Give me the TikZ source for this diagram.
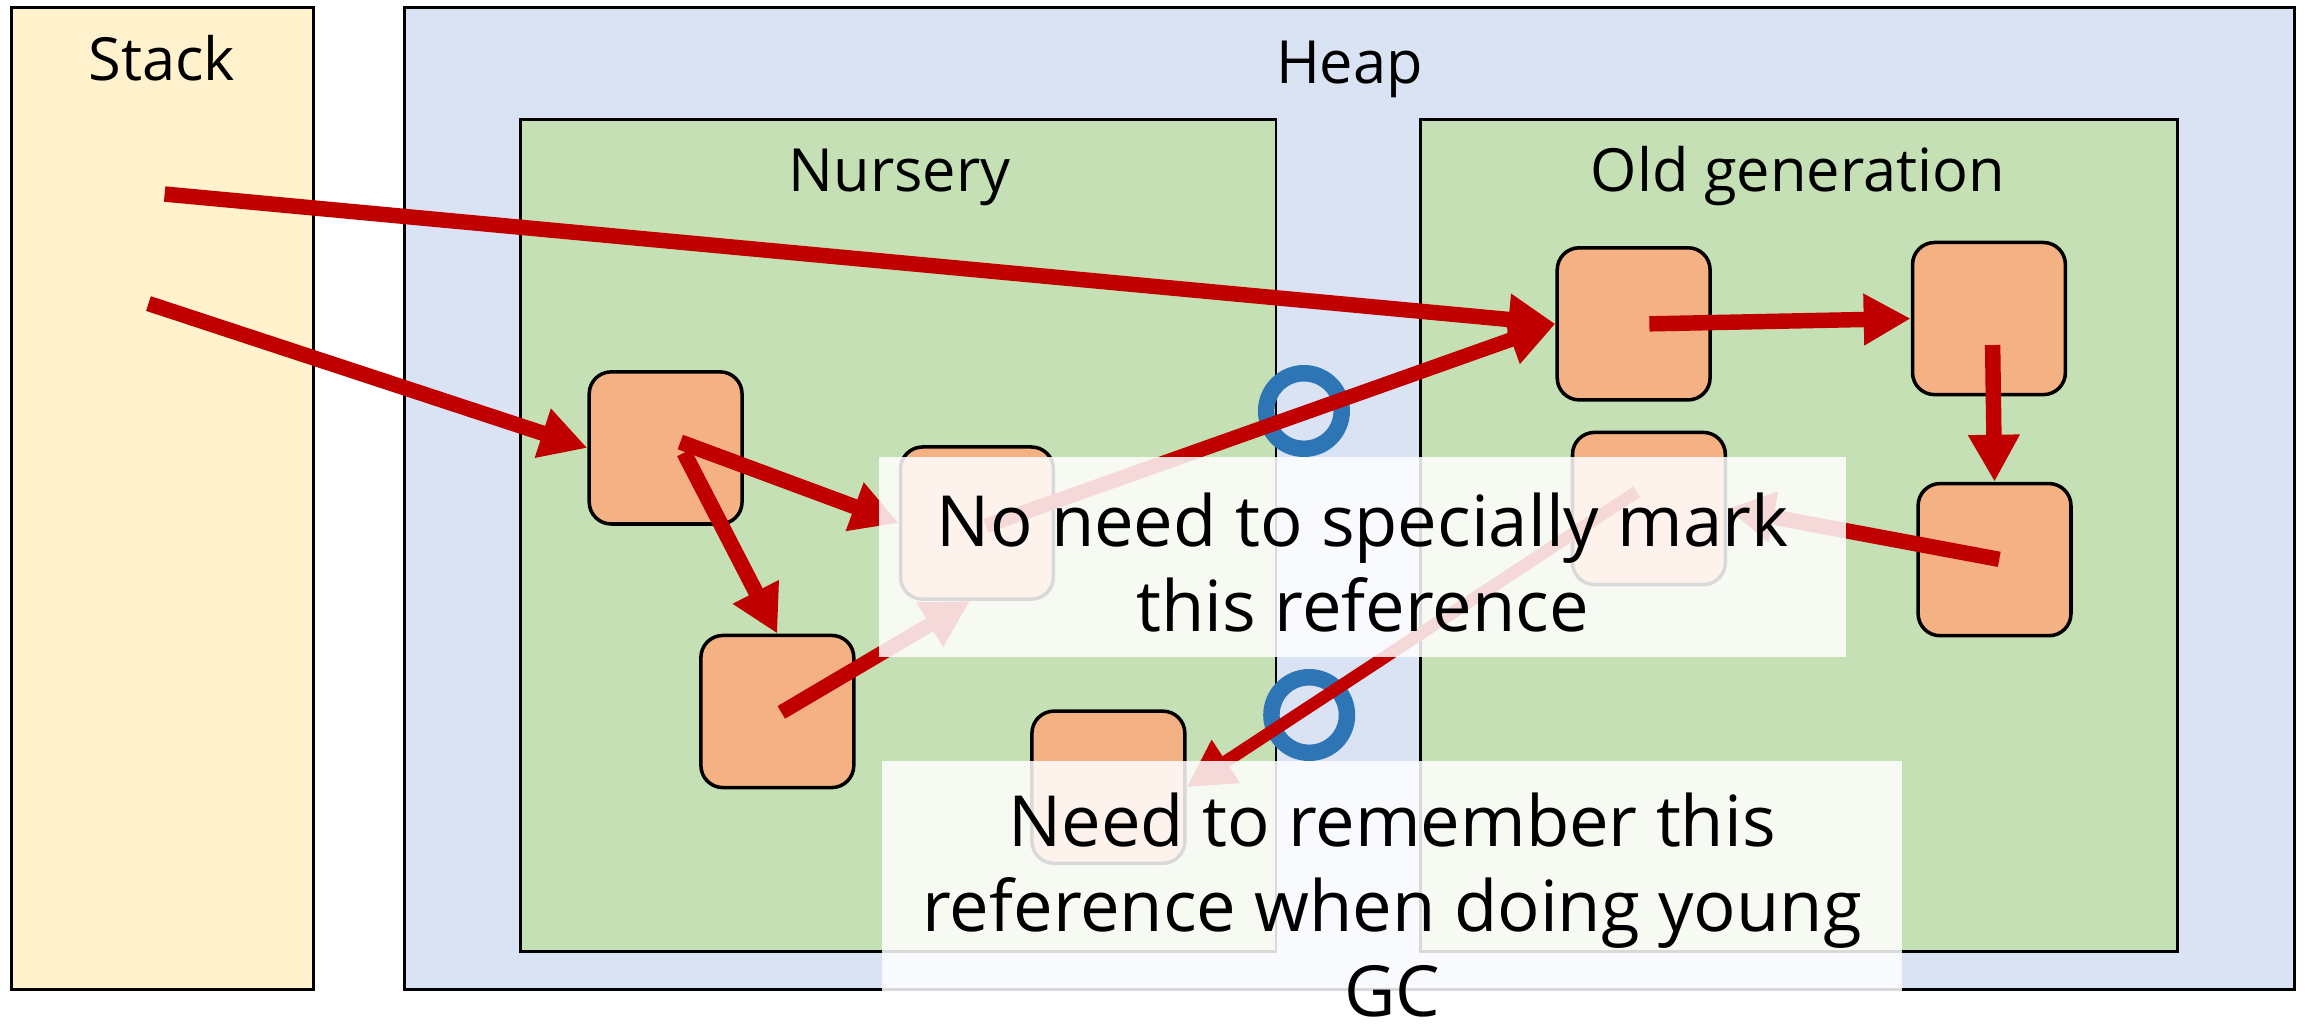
\documentclass[tikz,border=0pt]{standalone}
\usepackage{fontspec}
\setmainfont{Open Sans}
\usetikzlibrary{arrows.meta,calc}

\definecolor{stackfill}{HTML}{FFF2CC}
\definecolor{heapfill}{HTML}{DAE3F3}
\definecolor{genfill}{HTML}{C5E0B4}
\definecolor{objfill}{HTML}{F4B183}
\definecolor{refred}{HTML}{C00000}
\definecolor{markblue}{HTML}{2E75B6}

\tikzset{
  region/.style={draw=black, line width=2pt, rectangle, inner sep=0pt},
  title/.style={anchor=base, inner sep=0pt, font=\fontsize{40.5}{48}\selectfont},
  obj/.style={draw=black, line width=2.4pt, fill=objfill, rounded corners=15pt,
              minimum width=104pt, minimum height=103.5pt, inner sep=0pt},
  ref/.style={draw=refred, line width=#1,
              -{Triangle[length=32pt, width=33pt]}},
  ref/.default=10.5pt,
  ring/.style={draw=markblue, line width=11.2pt, circle, minimum size=51.4pt, inner sep=0pt},
  notebox/.style={fill=white, fill opacity=0.85, inner sep=0pt, rectangle},
  notetext/.style={anchor=north, inner sep=0pt, align=center,
                   font=\fontsize{48}{58}\selectfont},
}

\begin{document}
\begin{tikzpicture}[x=1pt, y=-1pt]
  \useasboundingbox (0,0) rectangle (1568,699);

  % memory regions
  \node[region, fill=stackfill, minimum width=205pt, minimum height=668pt] (stack) at (110.5,339) {};
  \node[region, fill=heapfill, minimum width=1286pt, minimum height=668pt] (heap) at (918,339) {};
  \node[region, fill=genfill, minimum width=514pt, minimum height=566pt] (nursery) at (611,364) {};
  \node[region, fill=genfill, minimum width=515pt, minimum height=566pt] (old) at (1223.5,364) {};

  \node[title] (stacklbl) at (110,55) {Stack};
  \node[title] (heaplbl) at (918,57) {Heap};
  \node[title] (nurserylbl) at (612,130) {Nursery};
  \node[title] (oldlbl) at (1223,130) {Old generation};

  % objects in the nursery
  \node[obj] (A) at (452.8,304.7) {};
  \node[obj] (B) at (664.6,355.8) {};
  \node[obj] (C) at (528.8,484) {};
  \node[obj] (D) at (754,535.5) {};
  % objects in the old generation
  \node[obj] (E) at (1111.3,220.3) {};
  \node[obj] (F) at (1353,216.7) {};
  \node[obj] (G) at (1121.7,345.9) {};
  \node[obj] (H) at (1356.8,380.7) {};

  % roots on the stack
  \coordinate (s1) at (112,132);
  \coordinate (s2) at (101,206.5);

  % card-marking rings on the cross-generation references
  \node[ring] (ring1) at (887,279.6) {};
  \node[ring] (ring2) at (890.6,486.4) {};

  % references
  \draw[ref] (s1) -- (E.west);
  \draw[ref] (s2) -- (A.west);
  \draw[ref] ($(A.center)+(10,-4)$) -- (B.west);
  \draw[ref] ($(A.center)+(12.5,3.3)$) -- (C.north);
  \draw[ref=10pt] ($(C.center)+(2.7,0.6)$) -- ($(B.south)+(-4.6,0)$);
  \draw[ref=10pt] ($(B.center)+(6,2)$) -- (E.west);
  \draw[ref] ($(E.center)+(10.7,0)$) -- (F.west);
  \draw[ref] ($(F.center)+(2.5,18)$) -- (H.north);
  \draw[ref] ($(H.center)+(3.2,-0.2)$) -- (G.east);
  \draw[ref=8.5pt] ($(G.center)+(-8.3,-11.4)$) -- (D.east);

  % explanatory notes
  \node[notebox, minimum width=658pt, minimum height=136pt] (note1box) at (927,379) {};
  \node[notetext] (note1) at (927,335) {No need to specially mark\\this reference};
  \node[notebox, minimum width=694pt, minimum height=158pt] (note2box) at (947,597) {};
  \node[notetext] (note2) at (947,539) {Need to remember this\\reference when doing young\\GC};
\end{tikzpicture}
\end{document}
